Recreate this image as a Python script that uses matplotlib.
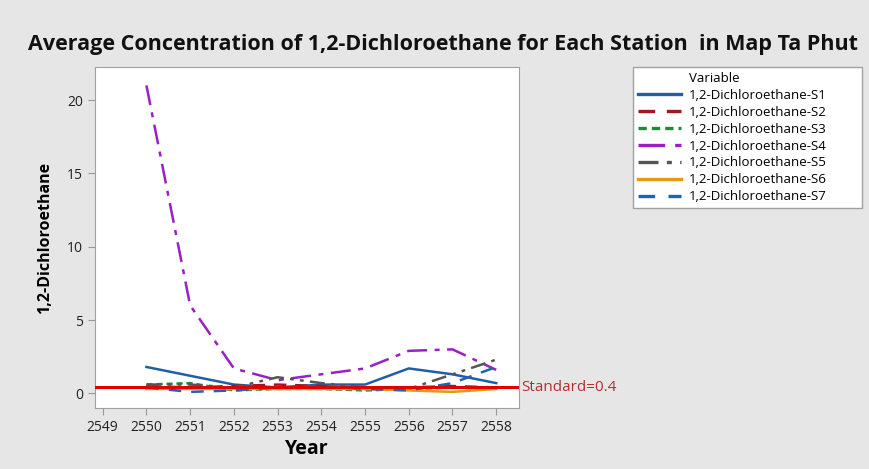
import matplotlib.pyplot as plt
from matplotlib.lines import Line2D

# Dados
anos = [2550, 2551, 2552, 2553, 2554, 2555, 2556, 2557, 2558]
s1 = [1.8, 1.2, 0.6, 0.4, 0.6, 0.6, 1.7, 1.3, 0.7]
s2 = [0.5, 0.4, 0.5, 0.6, 0.5, 0.3, 0.4, 0.5, 0.4]
s3 = [0.6, 0.7, 0.2, 0.3, 0.3, 0.2, 0.3, 0.4, 0.3]
s4 = [21.0, 6.0, 1.7, 0.9, 1.3, 1.7, 2.9, 3.0, 1.6]
s5 = [0.6, 0.6, 0.4, 1.1, 0.7, 0.4, 0.3, 1.3, 2.3]
s6 = [0.3, 0.3, 0.3, 0.3, 0.3, 0.3, 0.2, 0.1, 0.3]
s7 = [0.4, 0.1, 0.2, 0.4, 0.5, 0.3, 0.2, 0.7, 1.8]
padrao = 0.4
ticks_x = list(range(2549, 2559))
ticks_y = [0, 5, 10, 15, 20]

series = [
    ('1,2-Dichloroethane-S1', s1, '#1f5fa8', '-'),
    ('1,2-Dichloroethane-S2', s2, '#a3161b', (0, (5, 3.5))),
    ('1,2-Dichloroethane-S3', s3, '#1e8c34', (0, (2.5, 1.5))),
    ('1,2-Dichloroethane-S4', s4, '#9a1fc4', (0, (8, 3, 2, 3))),
    ('1,2-Dichloroethane-S5', s5, '#555555', (0, (6, 2.5, 1.5, 2.5, 1.5, 2.5))),
    ('1,2-Dichloroethane-S6', s6, '#e69a12', '-'),
    ('1,2-Dichloroethane-S7', s7, '#1f64b0', (0, (5, 4))),
]

plt.rcParams['font.family'] = ['Open Sans', 'DejaVu Sans']

fig = plt.figure(figsize=(8.7, 4.69), dpi=100, facecolor='#e6e6e6')
ax = fig.add_axes([0.109, 0.130, 0.488, 0.727])
ax.set_facecolor('white')

handles = [Line2D([], [], linestyle='none', label='Variable')]
for nome, vals, cor, estilo in series:
    h, = ax.plot(anos, vals, color=cor, linestyle=estilo, linewidth=1.8, label=nome)
    handles.append(h)

ax.axhline(padrao, color='#e00000', linewidth=2.2, zorder=5)
ax.text(1.005, padrao, 'Standard=0.4', transform=ax.get_yaxis_transform(),
        color='#b03030', fontsize=11, va='center', ha='left')

ax.set_xlim(2548.82, 2558.53)
ax.set_ylim(-1.0, 22.25)
ax.set_xticks(ticks_x)
ax.set_yticks(ticks_y)
ax.tick_params(colors='#999999', labelcolor='#222222', labelsize=10, length=5)
for sp in ax.spines.values():
    sp.set_color('#a0a0a0')

ax.set_xlabel('Year', fontsize=14, fontweight='bold', labelpad=3)
ax.set_ylabel('1,2-Dichloroethane', fontsize=11.5, fontweight='bold', labelpad=10)

fig.text(0.509, 0.905, 'Average Concentration of 1,2-Dichloroethane for Each Station  in Map Ta Phut',
         ha='center', va='center', fontsize=15.5, fontweight='bold', color='#111111')

leg = fig.legend(handles=handles, loc='upper left',
                 bbox_to_anchor=(0.7276, 0.5586, 0.2632, 0.2984), mode='expand',
                 frameon=True, fancybox=False, framealpha=1, fontsize=9.5, handlelength=3.3,
                 handletextpad=0.6, labelspacing=0.3, borderpad=0.35, borderaxespad=0)
leg.get_frame().set_edgecolor('#a0a0a0')
leg.get_frame().set_linewidth(1)
for ln in leg.get_lines():
    ln.set_linewidth(2.4)

plt.savefig('out.png', dpi=100, facecolor=fig.get_facecolor())
